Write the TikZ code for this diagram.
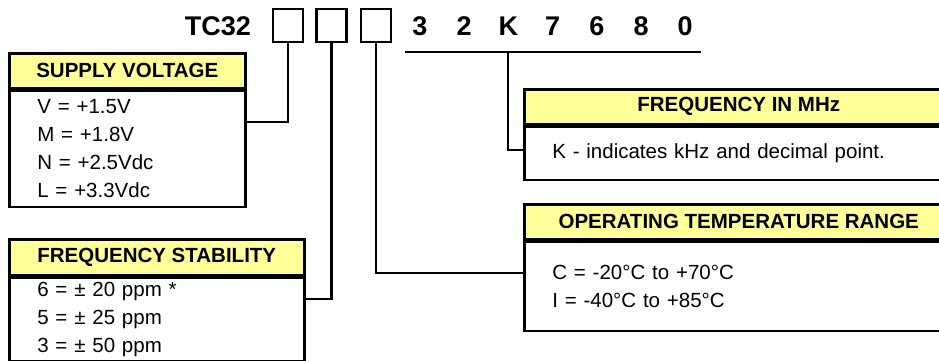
\documentclass[tikz,border=0pt]{standalone}
\usepackage{fontspec}
\setmainfont{Liberation Sans}
\definecolor{hdryellow}{RGB}{255,255,153}
\tikzset{
  hdr/.style={draw, fill=hdryellow, line width=2.5pt, anchor=north west,
    inner sep=0pt, minimum height=35pt,
    font=\fontsize{20.5}{24}\selectfont\bfseries},
  body/.style={draw, line width=2.5pt, anchor=north west, align=left,
    inner xsep=28pt, inner ysep=0pt,
    font=\fontsize{20.5}{28}\selectfont},
  code/.style={anchor=base, inner sep=0pt,
    font=\fontsize{27}{30}\selectfont\bfseries},
  slot/.style={draw, line width=2.5pt, minimum width=30pt,
    minimum height=33pt, inner sep=0pt},
  wire/.style={line width=2.5pt}
}
\begin{document}
\begin{tikzpicture}[x=1pt,y=-1pt]
  \useasboundingbox (0,0) rectangle (939,360);
  % part number
  \node[code, anchor=base east] (tc) at (251,35) {TC32};
  \node[slot] (sq1) at (288,25.5) {};
  \node[slot] (sq2) at (331.5,25.5) {};
  \node[slot] (sq3) at (376,25.5) {};
  \foreach \d [count=\i] in {3,2,K,7,6,8,0}
    \node[code] (d\i) at ({420+44.2*(\i-1)},35) {\d};
  \coordinate (ul1) at (405,52);
  \coordinate (ul2) at (701,52);
  \draw[wire] (ul1) -- (ul2);
  % supply voltage
  \node[hdr, minimum width=236pt] (sv) at (8,52) {SUPPLY VOLTAGE};
  \node[body, minimum width=236pt, text width=180pt, minimum height=116pt]
    (svb) at (sv.south west)
    {V = +1.5V\\M = +1.8V\\N = +2.5Vdc\\L = +3.3Vdc};
  % frequency stability
  \node[hdr, minimum width=295pt, minimum height=36pt] (fs) at (8,238)
    {FREQUENCY STABILITY};
  \node[body, minimum width=295pt, text width=239pt, minimum height=83pt]
    (fsb) at (fs.south west)
    {6 = ± 20 ppm *\\5 = ± 25 ppm\\3 = ± 50 ppm};
  % frequency
  \node[hdr, minimum width=429pt] (fm) at (523,88) {FREQUENCY IN MHz};
  \node[body, minimum width=429pt, text width=373pt, minimum height=53pt]
    (fmb) at (fm.south west) {K - indicates kHz and decimal point.};
  % temperature
  \node[hdr, minimum width=429pt] (tr) at (523,203)
    {OPERATING TEMPERATURE RANGE};
  \node[body, minimum width=429pt, text width=373pt, minimum height=89pt]
    (trb) at (tr.south west)
    {C = -20°C to +70°C\\I = -40°C to +85°C};
  % heavy line under each header
  \foreach \h in {sv,fs,fm,tr}
    \draw[line width=4.5pt] (\h.south west) -- (\h.south east);
  % connectors
  \coordinate (j1) at (288,122);
  \coordinate (j2) at (331.5,299);
  \coordinate (j3) at (376,273);
  \coordinate (j4) at (508,150);
  \draw[wire] (sq1.south) -- (j1) -- (svb.east |- j1);
  \draw[wire] (sq2.south) -- (j2) -- (fsb.east |- j2);
  \draw[wire] (sq3.south) -- (j3) -- (trb.west |- j3);
  \draw[wire] (ul1 -| j4) -- (j4) -- (fmb.west |- j4);
\end{tikzpicture}
\end{document}
